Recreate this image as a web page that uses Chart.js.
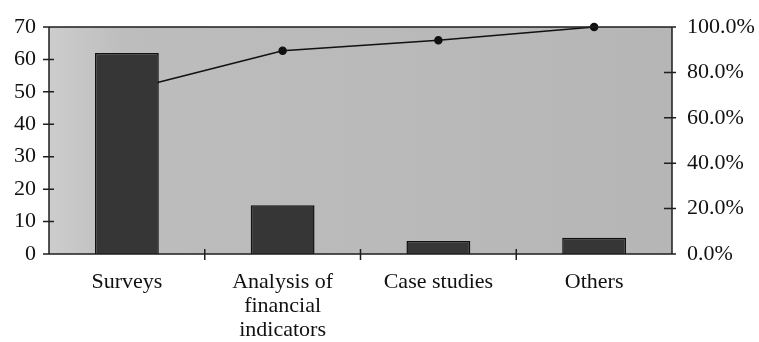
<!DOCTYPE html>
<html>
<head>
<meta charset="utf-8">
<script src="https://cdn.jsdelivr.net/npm/chart.js@4"></script>
<style>
  html, body { margin: 0; padding: 0; background: #fff; }
  #wrap { width: 759px; height: 342px; }
</style>
</head>
<body>
<div id="wrap"><canvas id="c" width="759" height="342"></canvas></div>
<script>
// Methods used, counts and cumulative share
const categories = ['Surveys', ['Analysis of', 'financial', 'indicators'], 'Case studies', 'Others'];
const counts = [62, 15, 4, 5];
const cumulativePct = [72.1, 89.5, 94.2, 100.0];
const countTicks = [0, 10, 20, 30, 40, 50, 60, 70];
const pctTicks = [0, 20, 40, 60, 80, 100];

const FONT = { family: '"Liberation Serif", "Times New Roman", serif', size: 22, lineHeight: 1.09 };
const AXIS = '#1e1e1e';

// Shaded plot background, frame and crossing tick marks
const frame = {
  id: 'frame',
  beforeDatasetsDraw(chart) {
    const { ctx, chartArea: a } = chart;
    ctx.save();
    const g = ctx.createLinearGradient(a.left, 0, a.right, 0);
    g.addColorStop(0, '#cdcdcd');
    g.addColorStop(0.12, '#bdbdbd');
    g.addColorStop(1, '#b6b6b6');
    ctx.fillStyle = g;
    ctx.fillRect(a.left, a.top, a.right - a.left, a.bottom - a.top);
    ctx.restore();
  },
  afterDatasetsDraw(chart) {
    const { ctx, chartArea: a, scales } = chart;
    ctx.save();
    ctx.strokeStyle = AXIS;
    ctx.lineWidth = 1.5;
    ctx.beginPath();
    ctx.moveTo(a.left, a.top); ctx.lineTo(a.right, a.top);
    ctx.moveTo(a.left, a.top); ctx.lineTo(a.left, a.bottom);
    ctx.moveTo(a.right, a.top); ctx.lineTo(a.right, a.bottom);
    ctx.moveTo(a.left, a.bottom); ctx.lineTo(a.right, a.bottom);
    // left axis ticks
    countTicks.forEach(v => {
      const y = scales.y.getPixelForValue(v);
      ctx.moveTo(a.left - 6, y); ctx.lineTo(a.left + 5, y);
    });
    // right axis ticks
    pctTicks.forEach(v => {
      const y = scales.y1.getPixelForValue(v);
      ctx.moveTo(a.right - 8, y); ctx.lineTo(a.right + 4, y);
    });
    // category boundary ticks
    for (let i = 1; i < categories.length; i++) {
      const x = (scales.x.getPixelForValue(i - 1) + scales.x.getPixelForValue(i)) / 2;
      ctx.moveTo(x, a.bottom - 5); ctx.lineTo(x, a.bottom + 6);
    }
    ctx.stroke();
    ctx.restore();
  }
};

new Chart(document.getElementById('c'), {
  data: {
    labels: categories,
    datasets: [
      {
        type: 'bar',
        data: counts,
        yAxisID: 'y',
        backgroundColor: '#363636',
        borderColor: '#111',
        borderWidth: 1.5,
        categoryPercentage: 1,
        barPercentage: 0.41,
        order: 1
      },
      {
        type: 'line',
        data: cumulativePct,
        yAxisID: 'y1',
        borderColor: '#111',
        borderWidth: 1.5,
        pointRadius: 3.5,
        pointBackgroundColor: '#111',
        pointBorderColor: '#111',
        tension: 0,
        clip: false,
        order: 2
      }
    ]
  },
  options: {
    responsive: false,
    animation: false,
    devicePixelRatio: 1,
    layout: { padding: { top: 22, left: 0, right: 0, bottom: 0 } },
    plugins: { legend: { display: false }, tooltip: { enabled: false } },
    scales: {
      x: {
        offset: true,
        grid: { display: false, drawTicks: false },
        border: { display: false },
        ticks: { font: FONT, color: '#111', padding: 16, maxRotation: 0, autoSkip: false },
        afterFit(s) { s.height = 88; }
      },
      y: {
        position: 'left',
        min: 0, max: 70,
        afterBuildTicks(s) { s.ticks = countTicks.map(v => ({ value: v })); },
        grid: { display: false, drawTicks: false },
        border: { display: false },
        ticks: { font: FONT, color: '#111', padding: 13 },
        afterFit(s) { s.width = 49; }
      },
      y1: {
        position: 'right',
        min: 0, max: 100,
        afterBuildTicks(s) { s.ticks = pctTicks.map(v => ({ value: v })); },
        grid: { display: false, drawTicks: false },
        border: { display: false },
        ticks: { font: FONT, color: '#111', padding: 15, callback: v => v.toFixed(1) + '%' },
        afterFit(s) { s.width = 87; }
      }
    }
  },
  plugins: [frame]
});
</script>
</body>
</html>
